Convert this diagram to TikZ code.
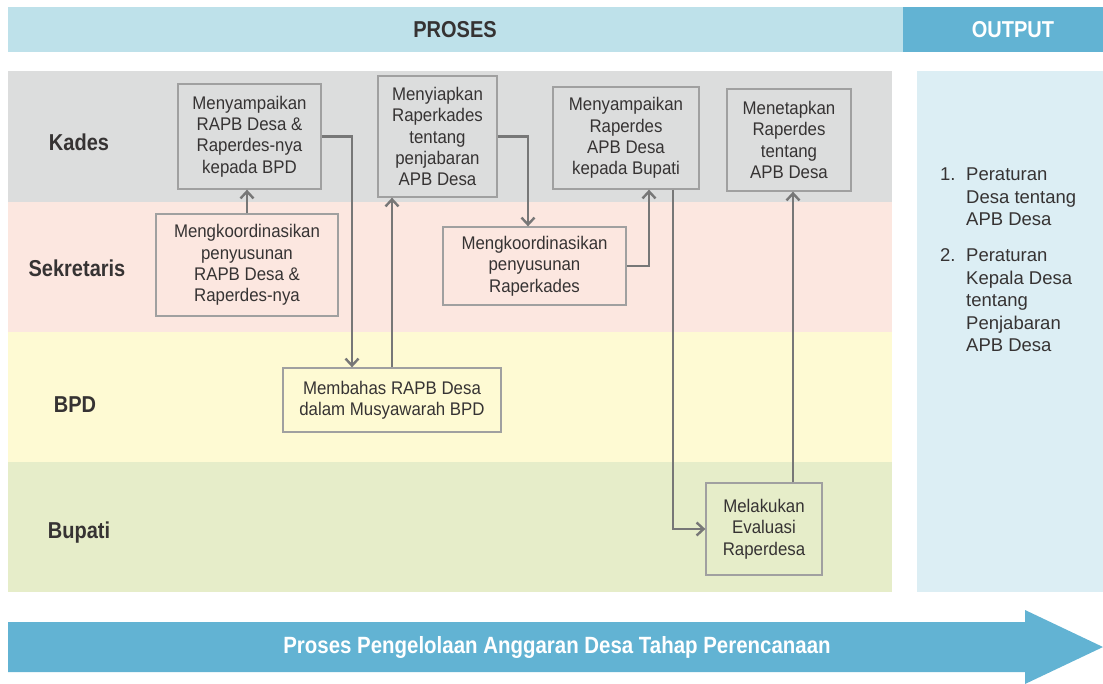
\documentclass[tikz,border=0pt]{standalone}
\usepackage{fontspec}
\setmainfont{Liberation Sans}
\newfontfamily\condfont{Liberation Sans}[FakeStretch=0.87]
\newfontfamily\boxfont{Liberation Sans}[FakeStretch=0.92]
\usetikzlibrary{arrows.meta}
\definecolor{hdrlight}{HTML}{BEE1EA}
\definecolor{outblue}{HTML}{62B3D3}
\definecolor{kadescol}{HTML}{DCDDDD}
\definecolor{sekcol}{HTML}{FCE7E0}
\definecolor{bpdcol}{HTML}{FEFAD3}
\definecolor{bupcol}{HTML}{E6EDC9}
\definecolor{outpanel}{HTML}{DCEEF4}
\definecolor{boxgray}{HTML}{A0A0A0}
\definecolor{arrgray}{HTML}{777777}
\definecolor{txt}{HTML}{363333}
\begin{document}
\begin{tikzpicture}[x=1pt,y=-1pt,
  box/.style={draw=boxgray, line width=1.3pt, align=center, inner sep=0pt,
    font=\boxfont\fontsize{18.3}{21.3}\selectfont, text=txt},
  arr/.style={draw=arrgray, line width=2.4pt, -{Straight Barb[length=7pt,width=13pt]}},
  lanelabel/.style={font=\condfont\bfseries\fontsize{23}{26}\selectfont, text=txt},
  hdr/.style={font=\condfont\bfseries\fontsize{23}{26}\selectfont},
]
\useasboundingbox (0,0) rectangle (1103,683);
% header
\fill[hdrlight] (8,7) rectangle (903,52);
\fill[outblue] (903,7) rectangle (1103,52);
\node[hdr, text=txt] (proses) at (455,30) {PROSES};
\node[hdr, text=white] (output) at (1013,30) {OUTPUT};
% lanes
\fill[kadescol] (8,71) rectangle (892,202);
\fill[sekcol] (8,202) rectangle (892,332);
\fill[bpdcol] (8,332) rectangle (892,462);
\fill[bupcol] (8,462) rectangle (892,592);
\fill[outpanel] (917,71) rectangle (1103,592);
\node[lanelabel] (lkades) at (79,142) {Kades};
\node[lanelabel] (lsek) at (77,268) {Sekretaris};
\node[lanelabel] (lbpd) at (75,405) {BPD};
\node[lanelabel] (lbup) at (79,533) {Bupati};
% boxes
\node[box, minimum width=143, minimum height=105] (A) at (249.5,136.5)
  {Menyampaikan\\RAPB Desa \&\\Raperdes-nya\\kepada BPD};
\node[box, minimum width=182, minimum height=102] (B) at (247,265)
  {Mengkoordinasikan\\penyusunan\\RAPB Desa \&\\Raperdes-nya};
\node[box, minimum width=119, minimum height=121] (C) at (437.5,136.5)
  {Menyiapkan\\Raperkades\\tentang\\penjabaran\\APB Desa};
\node[box, minimum width=183, minimum height=78] (D) at (534.5,266)
  {Mengkoordinasikan\\penyusunan\\Raperkades};
\node[box, minimum width=146, minimum height=102] (E) at (626,138)
  {Menyampaikan\\Raperdes\\APB Desa\\kepada Bupati};
\node[box, minimum width=124, minimum height=102] (F) at (789,140)
  {Menetapkan\\Raperdes\\tentang\\APB Desa};
\node[box, minimum width=218, minimum height=64] (G) at (392,400)
  {Membahas RAPB Desa\\dalam Musyawarah BPD};
\node[box, minimum width=116, minimum height=92] (H) at (764,529)
  {Melakukan\\Evaluasi\\Raperdesa};
% connectors
\draw[arr] (B.north) -- (B.north |- A.south);
\draw[arr] (A.east) -| ([xshift=-40pt]G.north);
\draw[arr] (G.north) -- (G.north |- C.south);
\draw[arr] (C.east) -| ([xshift=-6.5pt]D.north);
\draw[arr] (D.east) -| ([xshift=23pt]E.south);
\draw[arr] ([xshift=47pt]E.south) |- (H.west);
\draw[arr] ([xshift=29pt]H.north) -- ([xshift=29pt]H.north |- F.south);
% output list
\node[anchor=north west, inner sep=0pt, text=txt, font=\fontsize{18.5}{22.5}\selectfont] (outlist) at (940,165)
  {\renewcommand\arraystretch{1}\begin{tabular}{@{}p{26pt}@{}l@{}}
   1. & Peraturan\\ & Desa tentang\\ & APB Desa\\[13.5pt]
   2. & Peraturan\\ & Kepala Desa\\ & tentang\\ & Penjabaran\\ & APB Desa
   \end{tabular}};
% bottom arrow
\fill[outblue] (8,622) -- (1025,622) -- (1025,610) -- (1103,647) -- (1025,684) -- (1025,672) -- (8,672) -- cycle;
\node[font=\condfont\bfseries\fontsize{23.5}{26}\selectfont, text=white] (bottomlabel) at (557,647)
  {Proses Pengelolaan Anggaran Desa Tahap Perencanaan};
\end{tikzpicture}
\end{document}
